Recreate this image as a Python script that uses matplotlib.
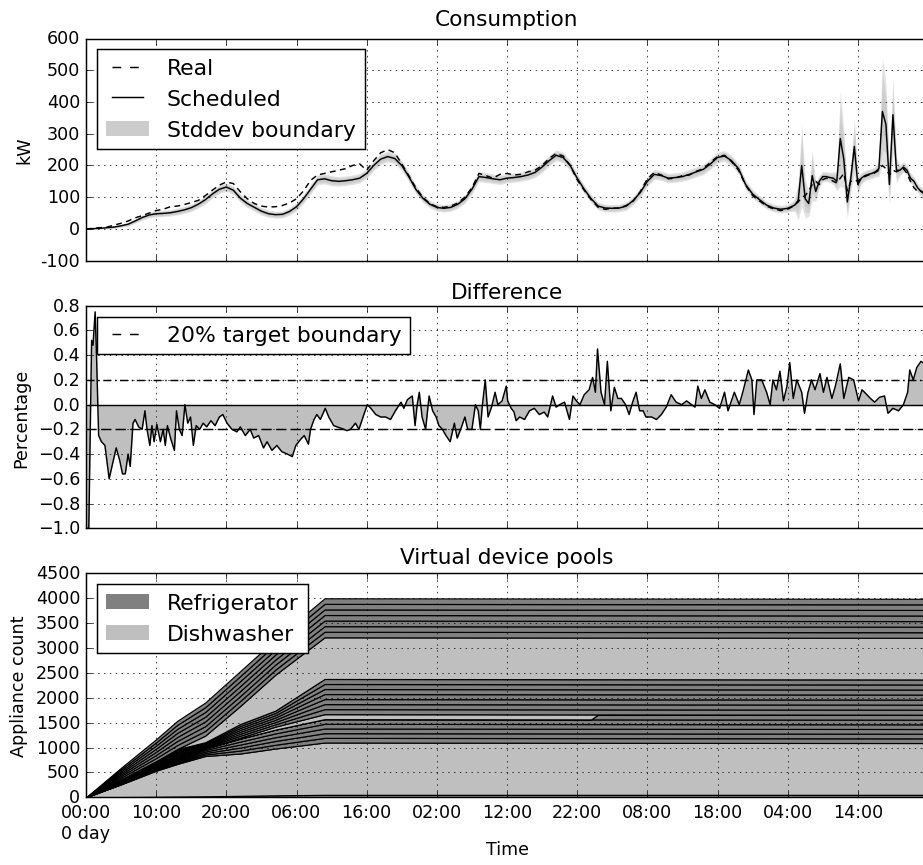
import matplotlib
matplotlib.use("Agg")
import matplotlib.pyplot as plt
from matplotlib.patches import Patch
from matplotlib.lines import Line2D
from matplotlib.ticker import FixedLocator, FuncFormatter
import numpy as np

plt.style.use("classic")
plt.rcParams["figure.facecolor"] = "white"
plt.rcParams["savefig.facecolor"] = "white"
plt.rcParams["legend.fontsize"] = 15

# ---- consumption (kW): hourly up to 99 h, then every half hour ----
cons_hours = list(range(0, 100)) + [100 + 0.5 * i for i in range(41)]

scheduled_kw = [
    0, 1, 2, 4, 6, 10, 15, 25, 36, 44,
    48, 49, 51, 55, 60, 67, 78, 92, 110, 125,
    132, 122, 97, 80, 68, 56, 48, 45, 46, 55,
    70, 95, 125, 155, 158, 152, 150, 152, 155, 160,
    175, 200, 220, 228, 222, 200, 165, 125, 97, 78,
    68, 65, 68, 78, 95, 125, 165, 162, 158, 155,
    160, 162, 165, 170, 178, 195, 215, 232, 225, 200,
    160, 125, 95, 72, 66, 65, 66, 72, 90, 115,
    150, 172, 168, 160, 162, 165, 172, 180, 188, 205,
    225, 230, 215, 190, 140, 110, 92, 75, 66, 62,
    # 100 .. 120 every 0.5 h
    65, 70, 75, 90, 200, 95, 80, 168, 118, 150,
    165, 165, 162, 160, 150, 285, 220, 85, 160, 260,
    140, 160, 168, 172, 175, 180, 190, 370, 330, 140,
    360, 185, 185, 195, 185, 160, 150, 130, 118, 112,
    105,
]

real_kw = [
    0, 2, 4, 6, 12, 18, 25, 35, 42, 50,
    58, 62, 70, 72, 77, 83, 90, 105, 122, 138,
    148, 143, 117, 95, 80, 72, 69, 70, 74, 82,
    95, 120, 153, 170, 175, 180, 185, 190, 200, 205,
    185, 215, 240, 250, 240, 205, 168, 130, 100, 80,
    70, 68, 72, 82, 100, 130, 175, 168, 160, 172,
    175, 170, 172, 180, 185, 200, 222, 238, 230, 200,
    155, 122, 92, 68, 62, 65, 66, 74, 88, 118,
    158, 178, 170, 158, 160, 168, 170, 182, 190, 210,
    228, 232, 212, 185, 138, 105, 88, 72, 63, 58,
    # 100 .. 120 every 0.5 h
    62, 68, 75, 85, 100, 105, 120, 140, 150, 140,
    155, 160, 158, 150, 145, 160, 175, 120, 150, 155,
    150, 160, 165, 170, 172, 178, 185, 200, 190, 170,
    185, 180, 185, 190, 175, 150, 130, 118, 120, 110,
    105,
]

std_kw = [
    0, 1, 2, 3, 4, 5, 6, 7, 8, 9,
    10, 10, 10, 11, 11, 12, 12, 13, 13, 13,
    13, 13, 13, 12, 12, 12, 11, 11, 11, 12,
    13, 14, 15, 16, 16, 16, 15, 15, 15, 15,
    15, 16, 17, 17, 17, 16, 15, 14, 13, 12,
    12, 12, 12, 13, 14, 15, 16, 16, 15, 15,
    15, 15, 15, 16, 16, 17, 17, 17, 17, 16,
    15, 14, 13, 12, 12, 12, 12, 13, 14, 15,
    16, 16, 15, 15, 15, 15, 16, 16, 17, 17,
    17, 17, 17, 16, 15, 14, 13, 12, 12, 12,
    # 100 .. 120 every 0.5 h
    12, 15, 20, 60, 130, 60, 40, 80, 30, 20,
    16, 16, 16, 20, 30, 150, 90, 50, 40, 90,
    30, 18, 16, 16, 16, 17, 25, 170, 130, 60,
    120, 40, 18, 16, 16, 16, 15, 15, 15, 15,
    15,
]

# ---- difference (fraction) ----
diff_hours = [
    0.0, 0.4, 0.8, 1.0, 1.3, 1.5, 1.8, 2.2, 2.7, 3.3, 3.9, 4.3, 4.8, 5.2, 5.6,
    6.0, 6.3, 6.7, 7.0, 7.5, 8.0, 8.4, 8.7, 9.1, 9.4, 9.7, 10.1, 10.6, 11.0,
    11.3, 11.6, 12.1, 12.6, 12.9, 13.3, 13.7, 14.1, 14.5, 14.9, 15.3, 15.7,
    16.2, 16.7, 17.2, 17.8, 18.4, 19.0, 19.5, 20.1, 20.8, 21.5, 22.0, 22.7,
    23.4, 23.9, 24.6, 25.3, 25.8, 26.5, 27.2, 27.9, 28.7, 29.4, 29.9, 30.6,
    31.1, 31.7, 32.0, 32.5, 32.9, 33.4, 34.1, 34.6, 35.3, 36.3, 37.2, 37.7,
    38.4, 38.9, 39.6, 40.1, 40.6, 41.3, 42.0, 42.7, 43.4, 44.1, 44.9, 45.3,
    45.8, 46.5, 46.9, 47.2, 47.5, 47.9, 48.4, 48.9, 49.4, 49.9, 50.3, 50.8,
    51.3, 51.9, 52.5, 52.9, 53.4, 54.0, 54.4, 55.0, 55.5, 55.9, 56.2, 56.5,
    56.9, 57.3, 57.8, 58.3, 58.7, 59.3, 59.9, 60.1, 60.6, 61.0, 61.3, 61.8,
    62.5, 63.2, 63.9, 64.6, 65.3, 65.8, 66.5, 67.0, 67.5, 68.2, 68.9, 69.4,
    69.9, 70.4, 71.0, 71.7, 72.2, 72.6, 72.9, 73.4, 73.9, 74.3, 74.8, 75.3,
    75.8, 76.3, 76.9, 77.4, 77.9, 78.4, 78.9, 79.4, 79.8, 80.6, 81.3, 82.0,
    82.7, 83.4, 84.1, 84.9, 85.6, 86.3, 86.8, 87.2, 87.7, 88.2, 88.9, 89.6,
    90.3, 91.0, 91.5, 92.4, 93.1, 93.6, 94.4, 94.9, 95.2, 95.6, 96.3, 97.0,
    97.5, 97.9, 98.4, 98.9, 99.4, 99.9, 100.3, 100.8, 101.3, 102.0, 102.4,
    102.9, 103.4, 103.9, 104.6, 105.1, 105.6, 106.3, 106.8, 107.5, 108.0,
    108.7, 109.4, 110.1, 110.6, 111.3, 111.8, 112.4, 113.1, 113.8, 114.3,
    115.0, 115.8, 116.5, 117.1, 117.4, 117.9, 118.4, 119.0, 119.5, 120.0,
]
diff_values = [
    -1.0, -1.0, 0.52, 0.48, 0.75, 0.40, -0.25, -0.30, -0.33, -0.60, -0.45, -0.35, -0.45, -0.56, -0.56,
    -0.40, -0.50, -0.15, -0.12, -0.18, -0.20, -0.05, -0.20, -0.33, -0.17, -0.30, -0.16, -0.30, -0.20,
    -0.33, -0.17, -0.28, -0.37, -0.05, -0.20, -0.25, 0.00, -0.15, -0.10, -0.33, -0.17,
    -0.20, -0.15, -0.18, -0.13, -0.17, -0.10, -0.08, -0.15, -0.20, -0.22, -0.18, -0.25,
    -0.20, -0.27, -0.25, -0.35, -0.30, -0.37, -0.33, -0.38, -0.40, -0.42, -0.33, -0.28,
    -0.25, -0.32, -0.20, -0.12, -0.08, -0.12, -0.03, -0.10, -0.17, -0.19, -0.21, -0.20,
    -0.15, -0.20, -0.08, 0.00, -0.03, -0.08, -0.10, -0.10, -0.12, -0.05, 0.02, -0.03,
    0.04, 0.07, -0.17, 0.00, 0.10, -0.10, -0.20, 0.07, -0.05, -0.10, -0.17, -0.20,
    -0.25, -0.30, -0.15, -0.27, -0.20, -0.10, -0.20, -0.20, 0.00, -0.05, -0.20, 0.00,
    0.20, -0.10, -0.02, 0.10, 0.00, 0.03, 0.15, 0.03, -0.03, -0.06, -0.13, -0.10,
    -0.12, -0.05, -0.03, -0.08, -0.06, -0.10, 0.07, -0.02, 0.00, 0.02, -0.12, 0.07,
    0.03, 0.00, 0.08, 0.12, 0.22, 0.10, 0.45, 0.10, 0.00, 0.35, -0.05, 0.14,
    0.05, 0.05, 0.00, -0.08, 0.02, 0.10, -0.05, -0.05, -0.10, -0.10, -0.12, -0.08,
    -0.02, 0.08, 0.02, 0.00, 0.03, 0.00, -0.02, 0.15, 0.05, 0.12, 0.02, 0.00,
    -0.03, 0.10, -0.05, 0.10, 0.00, 0.10, 0.28, 0.20, -0.08, 0.20, 0.20, 0.10,
    0.00, 0.20, 0.12, 0.27, 0.03, 0.15, 0.34, 0.05, 0.20, 0.10, -0.07,
    0.10, 0.20, 0.12, 0.25, 0.10, 0.22, 0.05, 0.15, 0.33, 0.05,
    0.22, 0.20, 0.03, 0.12, 0.08, 0.05, 0.02, 0.06, 0.07, -0.07,
    -0.03, -0.05, 0.00, 0.10, 0.28, 0.20, 0.30, 0.35, 0.33, 0.30,
]

# ---- virtual device pools: per-layer appliance counts at breakpoint hours ----
pool_hours = [0, 5, 10, 13, 17, 22, 27, 34, 72, 73, 120]
fridge_base = [0, 5, 10, 15, 20, 30, 40, 50, 50, 50, 50]
dish_main = [0, 255, 525, 655, 810, 850, 940, 1050, 1045, 1045, 1040]
fridge_low = [0, 8, 16, 22, 30, 60, 76, 94, 94, 94, 94]        # 5 pools
fridge_extra = [0, 0, 0, 0, 0, 0, 0, 0, 0, 100, 100]
dish_strip = [0, 0, 0, 0, 0, 20, 60, 100, 100, 0, 0]
fridge_mid = [0, 9, 16, 27, 18, 39, 46, 101, 101, 101, 101]    # 7 pools
dish_upper = [0, 0, 0, 0, 134, 365, 723, 837, 837, 837, 837]
fridge_top = [0, 33, 63, 81, 95, 100, 101, 112, 112, 112, 112]  # 7 pools

FRIDGE = "0.5"
DISH = "0.75"


def fmt_hour(h, _pos):
    if abs(h) < 1e-9:
        return "00:00\n0 day"
    return "%02d:00" % (int(round(h)) % 24)


fig = plt.figure(figsize=(923 / 105, 866 / 105), dpi=105)
ax1 = fig.add_axes([86 / 923, 1 - 261.7 / 866, 842 / 923, 222.2 / 866])
ax2 = fig.add_axes([86 / 923, 1 - 529.3 / 866, 842 / 923, 222.6 / 866], sharex=ax1)
ax3 = fig.add_axes([86 / 923, 1 - 798.3 / 866, 842 / 923, 224.0 / 866], sharex=ax1)

# Consumption
t = np.asarray(cons_hours)
sched = np.asarray(scheduled_kw, dtype=float)
std = np.asarray(std_kw, dtype=float)
for k in (1.0, 0.7, 0.4):
    ax1.fill_between(t, sched - k * std, sched + k * std, color="0.75", alpha=0.45, lw=0)
ax1.plot(t, real_kw, "k--", lw=1, dashes=(4, 3))
ax1.plot(t, sched, "k-", lw=1)
ax1.set_ylim(-100, 600)
ax1.set_yticks(range(-100, 601, 100))
ax1.set_yticklabels([str(v) for v in range(-100, 601, 100)])
ax1.set_ylabel("kW")
ax1.set_title("Consumption", fontsize=14.8, pad=9)
ax1.legend(
    [Line2D([], [], color="k", ls="--"), Line2D([], [], color="k", ls="-"),
     Patch(facecolor="0.8", edgecolor="none")],
    ["Real", "Scheduled", "Stddev boundary"], loc="upper left",
)

# Difference
dh = np.asarray(diff_hours)
dv = np.asarray(diff_values)
ax2.fill_between(dh, dv, 0, color="0.75", lw=0)
ax2.plot(dh, dv, "k-", lw=1)
ax2.axhline(0, color="k", lw=1)
ax2.axhline(0.2, color="k", lw=1, dashes=(5.5, 2.5, 1, 2.5))
ax2.axhline(-0.2, color="k", lw=1, dashes=(7, 3))
ax2.set_ylim(-1.0, 0.8)
ax2.set_yticks(np.arange(-1.0, 0.81, 0.2))
ax2.set_ylabel("Percentage")
ax2.set_title("Difference", fontsize=14.8, pad=5)
ax2.legend([Line2D([], [], color="k", ls="--")], ["20% target boundary"], loc="upper left")

# Virtual device pools
layers = [fridge_base, dish_main] + [fridge_low] * 5 + [fridge_extra, dish_strip] \
    + [fridge_mid] * 7 + [dish_upper] + [fridge_top] * 7
colors = [FRIDGE, DISH] + [FRIDGE] * 6 + [DISH] + [FRIDGE] * 7 + [DISH] + [FRIDGE] * 7
ax3.stackplot(pool_hours, *layers, colors=colors, edgecolor="k", linewidth=0.8)
ax3.set_ylim(0, 4500)
ax3.set_yticks(range(0, 4501, 500))
ax3.set_ylabel("Appliance count")
ax3.set_xlabel("Time")
ax3.xaxis.set_label_coords(0.5, -0.19)
ax3.set_title("Virtual device pools", fontsize=14.8, pad=7)
ax3.legend(
    [Patch(facecolor=FRIDGE, edgecolor="none"), Patch(facecolor=DISH, edgecolor="none")],
    ["Refrigerator", "Dishwasher"], loc="upper left",
)

ax3.set_xlim(0, 120)
ax3.xaxis.set_major_locator(FixedLocator(range(0, 111, 10)))
ax3.xaxis.set_major_formatter(FuncFormatter(fmt_hour))
for ax in (ax1, ax2, ax3):
    ax.grid(True)
for ax in (ax1, ax2):
    plt.setp(ax.get_xticklabels(), visible=False)

fig.savefig("out.png", dpi=105)
